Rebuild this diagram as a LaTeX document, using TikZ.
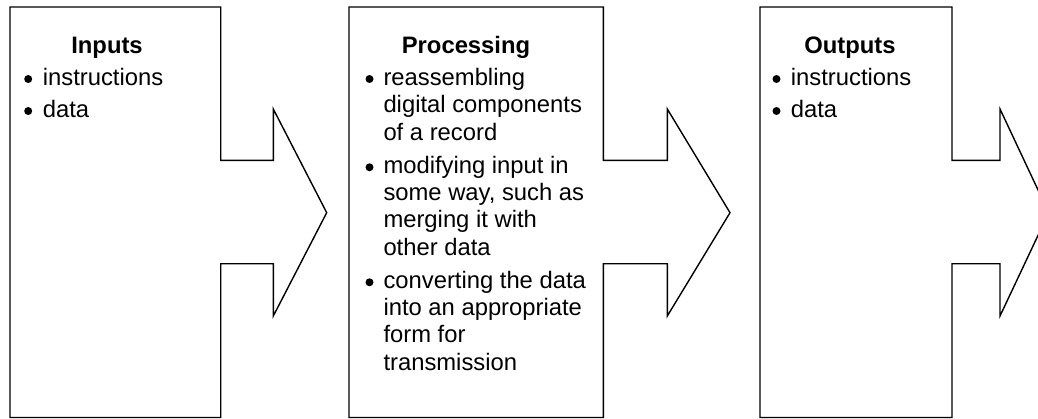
\documentclass[tikz,border=0pt]{standalone}
\usepackage{fontspec}
\setmainfont{Liberation Sans}
\begin{document}
\begin{tikzpicture}[x=1pt,y=-1pt,
  stage/.style={draw=black,line width=1.4pt,line join=miter,fill=white},
  head/.style={anchor=base,inner sep=0pt,font=\fontsize{23.8}{27.3}\selectfont\bfseries},
  txt/.style={anchor=base west,inner sep=0pt,font=\fontsize{23.8}{27.3}\selectfont},
  dot/.style={circle,fill=black,inner sep=0pt,minimum size=8pt}]
\useasboundingbox (0,0) rectangle (1038,418);
\clip (0,0) rectangle (1038,418);

% box-with-arrow outlines: left, right, shaft end, tip
\draw[stage] (10,7) -- (220.7,7) -- (220.7,160.3) -- (273.3,160.3) -- (273.3,109)
  -- (326.7,212.7) -- (273.3,316) -- (273.3,263.7) -- (220.7,263.7) -- (220.7,417.5)
  -- (10,417.5) -- cycle;
\draw[stage] (349,7) -- (603.3,7) -- (603.3,160.3) -- (667.3,160.3) -- (667.3,109)
  -- (730,212.7) -- (667.3,316) -- (667.3,263.7) -- (603.3,263.7) -- (603.3,417.5)
  -- (349,417.5) -- cycle;
\draw[stage] (760,7) -- (952,7) -- (952,160.3) -- (1000,160.3) -- (1000,109)
  -- (1048.7,212.7) -- (1000,316) -- (1000,263.7) -- (952,263.7) -- (952,417.5)
  -- (760,417.5) -- cycle;

% Inputs
\node[head] (inT) at (107,53.3) {Inputs};
\node[dot] (inB1) at (28.2,79) {};
\node[txt] (in1) at (42.7,85) {instructions};
\node[dot] (inB2) at (28.2,111) {};
\node[txt] (in2) at (42.7,117) {data};

% Processing
\node[head] (prT) at (466,53.3) {Processing};
\node[dot] (prB1) at (369.5,79) {};
\node[txt] (pr1a) at (383.3,85) {reassembling};
\node[txt] (pr1b) at (383.3,112.5) {digital components};
\node[txt] (pr1c) at (383.3,140) {of a record};
\node[dot] (prB2) at (369.5,167.3) {};
\node[txt] (pr2a) at (383.3,173.3) {modifying input in};
\node[txt] (pr2b) at (383.3,200.6) {some way, such as};
\node[txt] (pr2c) at (383.3,227.9) {merging it with};
\node[txt] (pr2d) at (383.3,255.2) {other data};
\node[dot] (prB3) at (369.5,282.3) {};
\node[txt] (pr3a) at (383.3,288.3) {converting the data};
\node[txt] (pr3b) at (383.3,315.6) {into an appropriate};
\node[txt] (pr3c) at (383.3,342.9) {form for};
\node[txt] (pr3d) at (383.3,370.2) {transmission};

% Outputs
\node[head] (outT) at (850,53.3) {Outputs};
\node[dot] (outB1) at (776.5,79) {};
\node[txt] (out1) at (790.7,85) {instructions};
\node[dot] (outB2) at (776.5,111) {};
\node[txt] (out2) at (790.7,117) {data};
\end{tikzpicture}
\end{document}
